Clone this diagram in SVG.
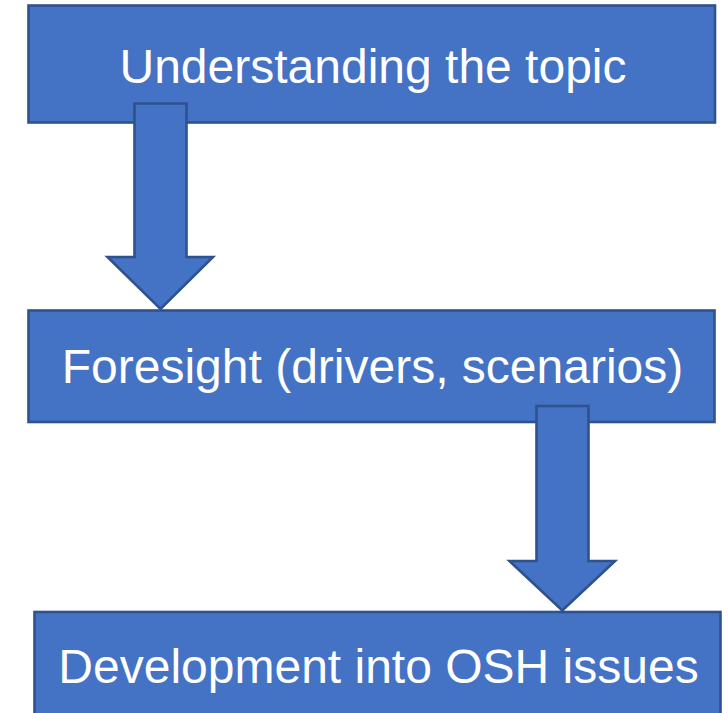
<svg xmlns="http://www.w3.org/2000/svg" width="728" height="713" viewBox="0 0 728 713">
  <style>
    .box { fill: #4472C4; stroke: #2F528F; stroke-width: 2.6; }
    .arrow { fill: #4472C4; stroke: #2F528F; stroke-width: 2.6; stroke-linejoin: miter; }
    .label { font-family: "Liberation Sans", Arial, sans-serif; font-size: 48px; fill: #FFFFFF; text-anchor: middle; }
  </style>
  <rect width="728" height="713" fill="#FFFFFF"/>

  <g id="node-understanding">
    <rect class="box" x="28.5" y="5.5" width="686.5" height="117"/>
    <text class="label" x="373" y="83">Understanding the topic</text>
  </g>

  <g id="node-foresight">
    <rect class="box" x="28.5" y="310.5" width="686" height="111.5"/>
    <text class="label" x="372.5" y="383">Foresight (drivers, scenarios)</text>
  </g>

  <g id="node-development">
    <rect class="box" x="34.5" y="612" width="686" height="120"/>
    <text class="label" x="378.5" y="682.5">Development into OSH issues</text>
  </g>

  <g id="connectors">
    <path class="arrow" d="M134.5,103.5 H186.5 V257 H213 L160.5,309 L107.5,257 H134.5 Z"/>
    <path class="arrow" d="M536.5,406 H588.5 V561 H615 L562.3,610.5 L509.5,561 H536.5 Z"/>
  </g>
</svg>
